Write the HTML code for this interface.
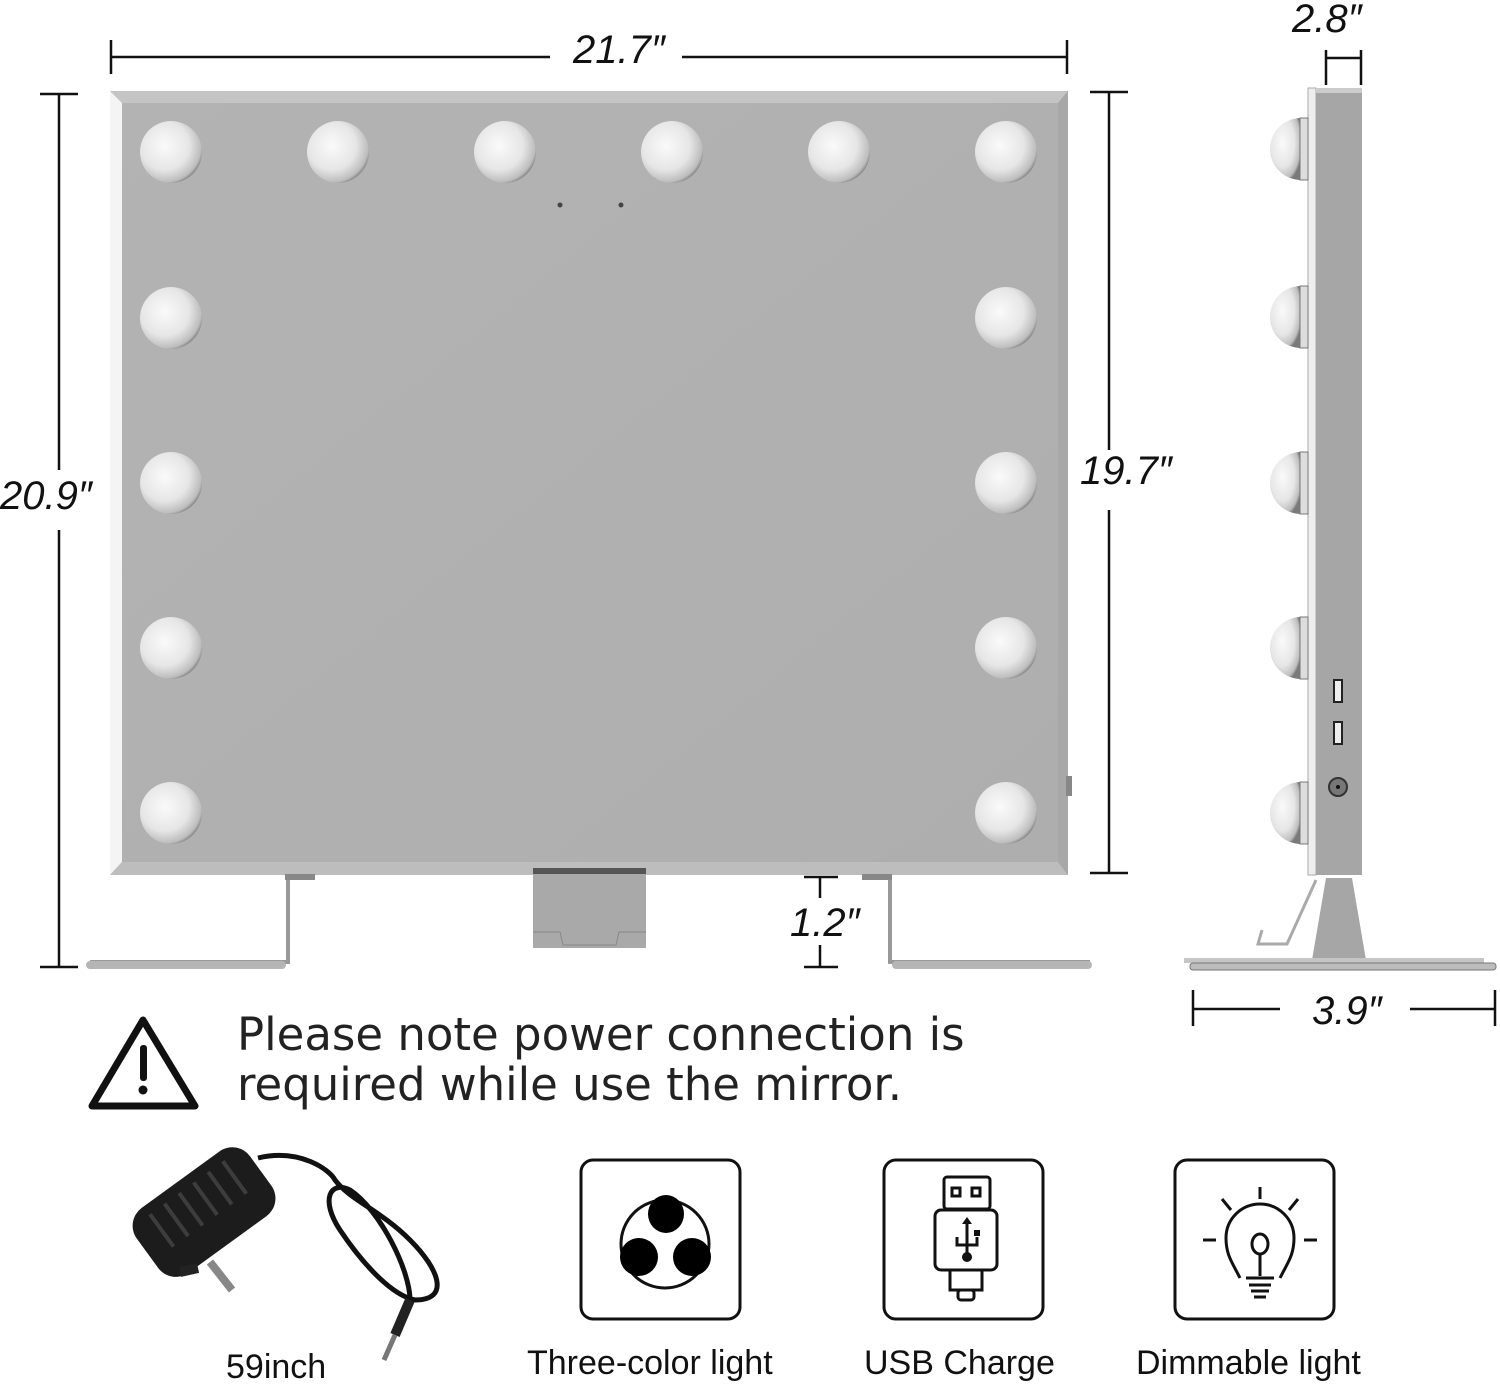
<!DOCTYPE html>
<html><head><meta charset="utf-8"><style>
html,body{margin:0;padding:0;background:#fff}
svg{display:block}
.dim{font-family:"Liberation Sans",sans-serif;font-style:italic;font-size:40px;fill:#111}
.lab{font-family:"Liberation Sans",sans-serif;font-size:34px;fill:#111}
</style></head><body>
<svg width="1500" height="1384" viewBox="0 0 1500 1384" xmlns="http://www.w3.org/2000/svg">
<defs>
<radialGradient id="bulb" cx="0.4" cy="0.4" r="0.65">
<stop offset="0" stop-color="#fafafa"/><stop offset="0.6" stop-color="#e6e6e6"/><stop offset="0.9" stop-color="#bdbdbd"/><stop offset="1" stop-color="#7a7a7a"/>
</radialGradient>
<linearGradient id="mir" x1="0" y1="0" x2="1" y2="1">
<stop offset="0" stop-color="#b3b3b3"/><stop offset="1" stop-color="#aeaeae"/>
</linearGradient>
<g id="b"><circle r="31" fill="url(#bulb)"/></g>
</defs>

<g stroke="#111" stroke-width="2.5" fill="none">
<path d="M111 40V74M111 57H550M682 57H1067M1067 40V74"/>
<path d="M40 94H78M59 94V470M59 530V967M40 967H78"/>
<path d="M1090 92H1128M1109 92V450M1109 510V873M1090 873H1128"/>
<path d="M1326 58H1362M1326 50V85M1361 50V85"/>
<path d="M1193 990V1026M1193 1009H1280M1410 1009H1495M1495 990V1026"/>
<path d="M804 877H838M820 877V898M820 945V967M804 967H838"/>
</g>
<text class="dim" x="573" y="63">21.7″</text>
<text class="dim" x="0" y="509">20.9″</text>
<text class="dim" x="1080" y="484">19.7″</text>
<text class="dim" x="1292" y="32">2.8″</text>
<text class="dim" x="1312" y="1024">3.9″</text>
<text class="dim" x="790" y="936">1.2″</text>

<rect x="110" y="91" width="958" height="784" fill="url(#mir)"/>
<polygon points="110,91 1068,91 1058,103 122,103" fill="#c4c4c4"/>
<polygon points="110,91 122,103 122,862 110,875" fill="#f4f4f4"/>
<polygon points="110,875 122,862 1058,862 1068,875" fill="#bdbdbd"/>
<polygon points="1068,91 1068,875 1058,862 1058,103" fill="#a8a8a8"/>
<rect x="1066" y="776" width="6" height="20" fill="#888"/>
<circle cx="560" cy="205" r="2.5" fill="#444"/><circle cx="621" cy="205" r="2.5" fill="#444"/>
<g>
<use href="#b" x="171" y="152"/><use href="#b" x="338" y="152"/><use href="#b" x="505" y="152"/>
<use href="#b" x="672" y="152"/><use href="#b" x="839" y="152"/><use href="#b" x="1006" y="152"/>
<use href="#b" x="171" y="318"/><use href="#b" x="1006" y="318"/>
<use href="#b" x="171" y="483"/><use href="#b" x="1006" y="483"/>
<use href="#b" x="171" y="648"/><use href="#b" x="1006" y="648"/>
<use href="#b" x="171" y="813"/><use href="#b" x="1006" y="813"/>
</g>
<rect x="533" y="868" width="113" height="80" fill="#a9a9a9"/>
<rect x="533" y="868" width="113" height="6" fill="#555"/>
<path d="M533 932H560L563 945H616L619 932H646" stroke="#888" fill="none"/>
<path d="M300 877H288V962H90" stroke="#999" stroke-width="4" fill="none"/>
<rect x="86" y="961" width="200" height="8" rx="4" fill="#b5b5b5"/>
<path d="M876 877H890V962H1090" stroke="#999" stroke-width="4" fill="none"/>
<rect x="892" y="961" width="200" height="8" rx="4" fill="#b5b5b5"/>
<rect x="285" y="874" width="30" height="6" fill="#888"/>
<rect x="862" y="874" width="30" height="6" fill="#888"/>

<rect x="1308" y="88" width="8" height="787" fill="#eee" stroke="#aaa"/>
<rect x="1316" y="88" width="46" height="787" fill="#a6a6a6"/>
<rect x="1316" y="88" width="46" height="5" fill="#ccc"/>
<g>
<path d="M1301 118A31 31 0 0 0 1301 180Z" fill="url(#bulb)"/>
<path d="M1301 286A31 31 0 0 0 1301 348Z" fill="url(#bulb)"/>
<path d="M1301 452A31 31 0 0 0 1301 514Z" fill="url(#bulb)"/>
<path d="M1301 617A31 31 0 0 0 1301 679Z" fill="url(#bulb)"/>
<path d="M1301 782A31 31 0 0 0 1301 844Z" fill="url(#bulb)"/>
</g>
<g fill="#ddd" stroke="#777" stroke-width="1">
<rect x="1300" y="118" width="8" height="62"/>
<rect x="1300" y="286" width="8" height="62"/>
<rect x="1300" y="452" width="8" height="62"/>
<rect x="1300" y="617" width="8" height="62"/>
<rect x="1300" y="782" width="8" height="62"/>
</g>
<rect x="1334" y="680" width="8" height="22" fill="#eee" stroke="#222" stroke-width="2"/>
<rect x="1334" y="722" width="8" height="22" fill="#eee" stroke="#222" stroke-width="2"/>
<circle cx="1338" cy="787" r="9" fill="#777" stroke="#333" stroke-width="2"/>
<circle cx="1338" cy="787" r="2" fill="#111"/>
<polygon points="1326,878 1352,878 1366,960 1312,960" fill="#a6a6a6"/>
<path d="M1316 880L1287 944H1258L1262 930" stroke="#aaa" stroke-width="3" fill="none"/>
<rect x="1184" y="958" width="300" height="5" fill="#c5c5c5"/>
<rect x="1190" y="963" width="306" height="7" rx="3" fill="#bdbdbd" stroke="#777" stroke-width="1"/>

<polygon points="143,1020 195,1106 92,1106" fill="#fff" stroke="#111" stroke-width="7" stroke-linejoin="round"/>
<rect x="140" y="1045" width="7" height="36" rx="3" fill="#111"/>
<circle cx="143" cy="1090" r="4.5" fill="#111"/>
<text x="237" y="1050" style="font-family:'DejaVu Sans',sans-serif;font-size:45px;fill:#222">Please note power connection is</text>
<text x="237" y="1100" style="font-family:'DejaVu Sans',sans-serif;font-size:45px;fill:#222">required while use the mirror.</text>

<g transform="rotate(-36 200 1215)">
<rect x="135" y="1175" width="140" height="80" rx="22" fill="#1c1c1c"/>
<g stroke="#3d3d3d" stroke-width="4"><path d="M160 1185V1225M178 1185V1225M196 1185V1225M214 1185V1225M232 1185V1225M250 1185V1225"/></g>
</g>
<path d="M210 1262L232 1290" stroke="#888" stroke-width="8"/>
<path d="M180 1272L198 1268" stroke="#222" stroke-width="10"/>
<path d="M258 1158C300 1148 330 1170 335 1180C350 1200 380 1210 410 1240C440 1270 450 1300 415 1300C390 1295 360 1260 340 1230C320 1200 330 1180 350 1190C380 1210 410 1270 410 1300L395 1330" stroke="#111" stroke-width="5" fill="none"/>
<path d="M410 1300L395 1335" stroke="#222" stroke-width="10"/>
<path d="M395 1335L384 1360" stroke="#777" stroke-width="5"/>
<text class="lab" x="226" y="1378">59inch</text>

<g fill="none" stroke="#111" stroke-width="3">
<rect x="581" y="1160" width="159" height="159" rx="12"/>
<rect x="884" y="1160" width="159" height="159" rx="12"/>
<rect x="1175" y="1160" width="159" height="159" rx="12"/>
<circle cx="665" cy="1244" r="44" stroke-width="3"/>
</g>
<g fill="#000">
<ellipse cx="666" cy="1214" rx="18" ry="19"/>
<ellipse cx="639" cy="1257" rx="19" ry="19"/>
<ellipse cx="692" cy="1257" rx="19" ry="19"/>
</g>
<g fill="none" stroke="#111" stroke-width="3">
<rect x="944" y="1177" width="46" height="32" rx="3"/>
<rect x="952" y="1188" width="8" height="8"/><rect x="972" y="1188" width="8" height="8"/>
<rect x="935" y="1210" width="62" height="60" rx="6"/>
<rect x="950" y="1270" width="32" height="20"/>
<rect x="958" y="1290" width="16" height="10" rx="3"/>
<path d="M967 1222V1255M957 1237V1245H977V1237"/>
</g>
<circle cx="967" cy="1257" r="5" fill="#111"/>
<path d="M962 1224L967 1217L972 1224Z" fill="#111"/>
<rect x="974" y="1230" width="6" height="6" fill="#111"/>
<g fill="none" stroke="#111" stroke-width="3">
<path d="M1240 1278C1232 1262 1226 1255 1226 1238A34 34 0 0 1 1294 1238C1294 1255 1288 1262 1280 1278"/>
<ellipse cx="1260" cy="1244" rx="8" ry="10"/>
<path d="M1260 1254V1276M1246 1278H1274M1249 1285H1271M1251 1291H1269M1254 1297H1266"/>
<path d="M1260 1187V1199M1222 1199L1231 1210M1298 1199L1289 1210M1203 1240H1216M1304 1240H1317"/>
</g>
<text class="lab" x="527" y="1374">Three-color light</text>
<text class="lab" x="864" y="1374">USB Charge</text>
<text class="lab" x="1136" y="1374">Dimmable light</text>
</svg>
</body></html>
